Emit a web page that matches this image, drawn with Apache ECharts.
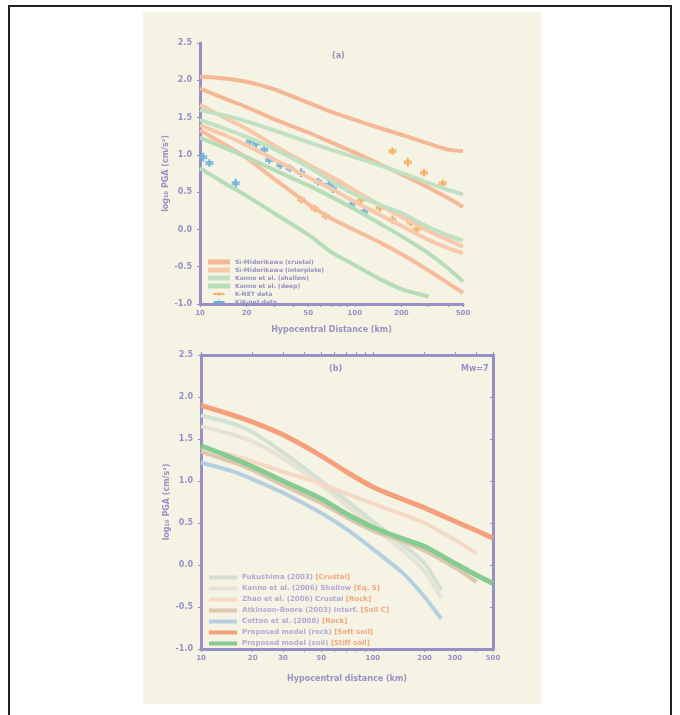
<!DOCTYPE html>
<html>
<head>
<meta charset="utf-8">
<script src="https://cdn.jsdelivr.net/npm/echarts@6/dist/echarts.min.js"></script>
<style>
html, body { margin: 0; padding: 0; background: #fff; }
#frame { position: absolute; left: 8px; top: 5px; width: 664px; height: 730px; border: 2px solid #222; box-sizing: border-box; }
#panel { position: absolute; left: 143px; top: 12px; width: 398px; height: 692px; background: #f5f3e4; }
#chart { position: absolute; left: 0; top: 0; width: 680px; height: 715px; }
</style>
</head>
<body>
<div id="frame"></div>
<div id="panel"></div>
<div id="chart"></div>
<script>
// distances (km) shared by all curves
var dist = [10, 15, 20, 30, 50, 70, 100, 150, 200, 300, 400, 500];

// (a) model curves, log10 PGA
var orange1 = [2.05, 2.02, 1.98, 1.88, 1.70, 1.58, 1.47, 1.35, 1.27, 1.15, 1.07, 1.05];
var orange2 = [1.89, 1.74, 1.64, 1.48, 1.30, 1.17, 1.03, 0.86, 0.74, 0.56, 0.42, 0.30];
var orange3 = [1.67, 1.48, 1.35, 1.13, 0.87, 0.71, 0.52, 0.31, 0.17, -0.02, -0.14, -0.23];
var orange4 = [1.40, 1.25, 1.13, 0.94, 0.70, 0.55, 0.37, 0.18, 0.05, -0.14, -0.25, -0.32];
var orange5 = [1.33, 1.12, 0.96, 0.68, 0.34, 0.15, -0.01, -0.19, -0.33, -0.55, -0.72, -0.85];
var green1 = [1.60, 1.52, 1.45, 1.33, 1.17, 1.07, 0.97, 0.85, 0.76, 0.62, 0.53, 0.47];
var green2 = [1.47, 1.34, 1.24, 1.08, 0.84, 0.65, 0.47, 0.32, 0.22, 0.03, -0.08, -0.15];
var green3 = [1.23, 1.08, 0.97, 0.80, 0.59, 0.44, 0.27, 0.06, -0.09, -0.32, -0.52, -0.70];
var green4 = [0.82, 0.60, 0.45, 0.22, -0.07, -0.30, -0.48, -0.68, -0.80, -0.90, null, null];

// (a) records: [distance, log10 PGA, error]
var obsOrange = [[45, 0.40, 0.05], [55, 0.28, 0.05], [65, 0.18, 0.05], [80, 0.62, 0.05], [110, 0.40, 0.06],
  [145, 0.29, 0.05], [175, 0.13, 0.06], [230, 0.09, 0.05], [250, 0.00, 0.05],
  [175, 1.05, 0.05], [220, 0.90, 0.06], [280, 0.76, 0.05], [370, 0.62, 0.05]];
var obsBlue = [[10.5, 0.97, 0.06], [11.5, 0.89, 0.05], [17, 0.62, 0.06], [21, 1.18, 0.06], [23, 1.15, 0.05],
  [26, 1.07, 0.06], [28, 0.93, 0.05], [33, 0.86, 0.05], [38, 0.82, 0.05], [45, 0.76, 0.06],
  [58, 0.64, 0.05], [68, 0.60, 0.05], [72, 0.55, 0.06], [95, 0.33, 0.05], [115, 0.24, 0.05]];

// (b) curves for Mw=7
var lineGrey = [1.78, 1.69, 1.58, 1.34, 1.00, 0.77, 0.52, 0.24, 0.02, null, null, null];
var lineBeige = [1.65, 1.56, 1.47, 1.27, 0.95, 0.71, 0.46, 0.17, -0.08, null, null, null];
var linePeach = [1.40, 1.31, 1.23, 1.11, 0.97, 0.85, 0.73, 0.60, 0.50, 0.30, 0.14, null];
var lineTan = [1.35, 1.23, 1.13, 0.95, 0.74, 0.57, 0.41, 0.28, 0.17, -0.03, -0.20, null];
var lineBlue = [1.22, 1.12, 1.02, 0.86, 0.62, 0.43, 0.19, -0.10, -0.38, null, null, null];
var lineRed = [1.90, 1.79, 1.70, 1.55, 1.30, 1.11, 0.93, 0.78, 0.68, 0.52, 0.41, 0.32];
var lineGreen = [1.42, 1.28, 1.17, 1.00, 0.79, 0.61, 0.45, 0.31, 0.22, 0.02, -0.12, -0.22];
// end points at 250 km for the short curves
var tail250 = { grey: -0.30, beige: -0.40, blue: -0.64 };

var ticksA = [10, 20, 50, 100, 200, 500];
var ticksB = [10, 20, 30, 50, 100, 200, 300, 500];
var minorTicks = [10, 20, 30, 40, 50, 60, 70, 80, 90, 100, 200, 300, 400, 500];

var refs = {
  'Fukushima (2003)': '[Crustal]',
  'Kanno et al. (2006) Shallow': '[Eq. 5]',
  'Zhao et al. (2006) Crustal': '[Rock]',
  'Atkinson-Boore (2003) Interf.': '[Soil C]',
  'Cotton et al. (2008)': '[Rock]',
  'Proposed model (rock)': '[Soft soil]',
  'Proposed model (soil)': '[Stiff soil]'
};

var axisCol = '#9690c6';
var txtCol = '#9791c6';

function pairs(vals) {
  var out = [];
  for (var i = 0; i < dist.length; i++) {
    if (vals[i] !== null) out.push([dist[i], vals[i]]);
  }
  return out;
}
function withTail(vals, v) {
  var p = pairs(vals);
  p.push([250, v]);
  return p;
}

function lineSeries(name, data, color, width, idx) {
  return {
    name: name, type: 'line', xAxisIndex: idx, yAxisIndex: idx,
    data: data, smooth: 0.2, showSymbol: false, symbol: 'rect',
    lineStyle: { color: color, width: width }, itemStyle: { color: color }
  };
}
function errSeries(name, data, color) {
  return {
    name: name, type: 'custom', xAxisIndex: 0, yAxisIndex: 0, data: data,
    itemStyle: { color: color },
    renderItem: function(params, api) {
      var p = api.coord([api.value(0), api.value(1)]);
      var lo = api.coord([api.value(0), api.value(1) - api.value(2)]);
      var hi = api.coord([api.value(0), api.value(1) + api.value(2)]);
      return {
        type: 'group', children: [
          { type: 'line', shape: { x1: p[0], y1: lo[1], x2: p[0], y2: hi[1] }, style: { stroke: color, lineWidth: 2 } },
          { type: 'rect', shape: { x: p[0] - 4, y: p[1] - 2, width: 8, height: 4 }, style: { fill: color, opacity: 0.8 } }
        ]
      };
    }
  };
}

function xAxisCfg(idx, ticks, name, gap, pos) {
  return {
    type: 'log', logBase: 10, min: 10, max: 500, gridIndex: idx, position: pos || 'bottom',
    name: name, nameLocation: 'middle', nameGap: gap,
    nameTextStyle: { color: txtCol, fontSize: 8, fontWeight: 'bold' },
    axisLine: { onZero: false, lineStyle: { color: axisCol, width: 3 } },
    axisTick: { show: true, customValues: minorTicks, length: 3, lineStyle: { color: axisCol, width: 1 } },
    axisLabel: { show: !pos, customValues: ticks, color: txtCol, fontSize: 7, fontWeight: 'bold', margin: 6 },
    splitLine: { show: false }, minorTick: { show: false }
  };
}
function yAxisCfg(idx, name, pos) {
  return {
    type: 'value', min: -1, max: 2.5, interval: 0.5, gridIndex: idx, position: pos || 'left',
    name: name, nameLocation: 'middle', nameGap: 30, nameRotate: 90,
    nameTextStyle: { color: txtCol, fontSize: 8, fontWeight: 'bold' },
    axisLine: { show: true, onZero: false, lineStyle: { color: axisCol, width: 3 } },
    axisTick: { show: true, length: 3, inside: !!pos, lineStyle: { color: axisCol } },
    axisLabel: { show: !pos, color: txtCol, fontSize: 8, fontWeight: 'bold', margin: 8,
      formatter: function(v) { return v.toFixed(1); } },
    splitLine: { show: false }
  };
}

var chart = echarts.init(document.getElementById('chart'));
var option = {
  backgroundColor: 'transparent',
  animation: false,
  textStyle: { fontFamily: 'DejaVu Sans' },
  title: [
    { text: '(a)', left: 327, top: 47, textStyle: { color: txtCol, fontSize: 8, fontWeight: 'bold' } },
    { text: '(b)', left: 324, top: 360, textStyle: { color: txtCol, fontSize: 8, fontWeight: 'bold' } },
    { text: 'Mw=7', left: 456, top: 360, textStyle: { color: txtCol, fontSize: 8, fontWeight: 'bold' } }
  ],
  grid: [
    { left: 200, top: 43, width: 263, height: 261 },
    { left: 201, top: 355, width: 292, height: 294 }
  ],
  legend: [
    {
      left: 203, top: 254, orient: 'vertical', itemWidth: 22, itemHeight: 5, itemGap: 2,
      textStyle: { color: txtCol, fontSize: 6, fontWeight: 'bold' },
      data: [
        { name: 'Si-Midorikawa (crustal)', icon: 'rect' },
        { name: 'Si-Midorikawa (interplate)', icon: 'rect' },
        { name: 'Kanno et al. (shallow)', icon: 'rect' },
        { name: 'Kanno et al. (deep)', icon: 'rect' },
        { name: 'K-NET data', icon: 'path://M0,3h22v4h-22z M10,0h2v10h-2z' },
        { name: 'KiK-net data', icon: 'path://M0,3h22v4h-22z M10,0h2v10h-2z' }
      ]
    },
    {
      left: 204, top: 569, orient: 'vertical', itemWidth: 28, itemHeight: 4, itemGap: 4,
      textStyle: {
        color: txtCol, fontSize: 7, fontWeight: 'bold',
        rich: { a: { color: '#b0aad4', fontSize: 7, fontWeight: 'bold' }, b: { color: '#f3a77f', fontSize: 7, fontWeight: 'bold' } }
      },
      formatter: function(n) { return '{a|' + n + '} {b|' + refs[n] + '}'; },
      data: Object.keys(refs).map(function(n) { return { name: n, icon: 'rect' }; })
    }
  ],
  xAxis: [
    xAxisCfg(0, ticksA, 'Hypocentral Distance (km)', 22),
    xAxisCfg(1, ticksB, 'Hypocentral distance (km)', 26),
    xAxisCfg(1, ticksB, '', 0, 'top')
  ],
  yAxis: [
    yAxisCfg(0, 'log\u2081\u2080 PGA (cm/s\u00b2)'),
    yAxisCfg(1, 'log\u2081\u2080 PGA (cm/s\u00b2)'),
    yAxisCfg(1, '', 'right')
  ],
  series: [
    lineSeries('Si-Midorikawa (crustal)', pairs(orange1), '#f5b896', 4, 0),
    lineSeries('Si-Midorikawa (crustal)', pairs(orange2), '#f5b896', 4, 0),
    lineSeries('Si-Midorikawa (interplate)', pairs(orange3), '#f8c8ab', 4, 0),
    lineSeries('Si-Midorikawa (interplate)', pairs(orange4), '#f8c8ab', 4, 0),
    lineSeries('Si-Midorikawa (interplate)', pairs(orange5), '#f6bc9c', 4, 0),
    lineSeries('Kanno et al. (shallow)', pairs(green1), '#c2e0c2', 4, 0),
    lineSeries('Kanno et al. (shallow)', pairs(green2), '#c2e0c2', 4, 0),
    lineSeries('Kanno et al. (deep)', pairs(green3), '#b6dcb8', 4, 0),
    lineSeries('Kanno et al. (deep)', pairs(green4), '#b6dcb8', 4, 0),
    errSeries('K-NET data', obsOrange, '#f2b06a'),
    errSeries('KiK-net data', obsBlue, '#6db3d9'),

    lineSeries('Fukushima (2003)', withTail(lineGrey, tail250.grey), '#d3e0d3', 4, 1),
    lineSeries('Kanno et al. (2006) Shallow', withTail(lineBeige, tail250.beige), '#e6e3d2', 4, 1),
    lineSeries('Zhao et al. (2006) Crustal', pairs(linePeach), '#f6d9c4', 4, 1),
    lineSeries('Atkinson-Boore (2003) Interf.', pairs(lineTan), '#dcc6b0', 4, 1),
    lineSeries('Cotton et al. (2008)', withTail(lineBlue, tail250.blue), '#b4d0e0', 4, 1),
    lineSeries('Proposed model (rock)', pairs(lineRed), '#f4a07c', 5, 1),
    lineSeries('Proposed model (soil)', pairs(lineGreen), '#86cc92', 5, 1)
  ]
};
chart.setOption(option);
</script>
</body>
</html>
